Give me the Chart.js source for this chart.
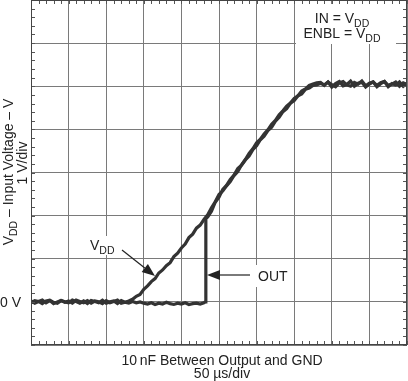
<!DOCTYPE html>
<html>
<head>
<meta charset="utf-8">
<script src="https://cdn.jsdelivr.net/npm/chart.js@4"></script>
<style>
html,body{margin:0;padding:0;background:#fff;}
#c{display:block;}
</style>
</head>
<body>
<canvas id="c" width="408" height="381"></canvas>
<script>
// ---- data (time in µs, 50 µs/div; voltage in V, 1 V/div) ----
const xTickStep = 50;          // µs per division
const yTickStep = 1;           // V per division
const xRange = [0, 500];
const yRange = [-1, 7];
const yTickLabels = ["0 V"];

const timeVdd = [0,5,10,15,20,25,30,35,40,45,50,55,60,65,70,75,80,85,90,95,100,105,110,115,120,125,130,
  135,140,145,150,155,160,165,170,175,180,185,190,195,200,205,210,215,220,225,230,235,240,245,250,255,260,265,270,275,280,285,290,295,300,305,310,315,320,325,330,335,340,345,350,355,360,365,370,375,380,
  385,390,395,400,405,410,415,420,425,430,435,440,445,450,455,460,465,470,475,480,485,490,495,500];
const vddVolts = [0.02,-0.03,0.01,0.04,-0.02,0.03,-0.04,0.00,0.03,-0.01,0.02,-0.03,0.04,0.01,-0.02,0.03,-0.03,0.02,0.00,-0.04,0.03,-0.02,0.01,0.04,-0.03,-0.01,0.02,
  0.06,0.13,0.17,0.29,0.37,0.47,0.54,0.67,0.74,0.84,0.91,1.05,1.13,1.25,1.34,1.49,1.57,1.71,1.78,1.91,2.02,2.18,2.32,2.49,2.57,2.69,2.79,2.93,3.02,3.18,3.30,3.44,3.55,3.69,3.77,3.89,3.99,4.12,4.21,4.34,4.43,4.54,4.61,4.72,4.78,4.89,4.94,5.02,5.05,5.08,
  5.09,5.02,5.10,5.04,4.99,5.08,5.11,5.03,5.00,5.09,5.05,5.12,5.01,5.07,5.10,4.99,5.06,5.11,5.02,5.05,5.10,5.00,5.08,5.04];

const timeOut = [0,5,10,15,20,25,30,35,40,45,50,55,60,65,70,75,80,85,90,95,100,105,110,115,120,125,130,135,140,145,
  150,155,160,165,170,175,180,185,190,195,200,205,210,215,220,225,230,
  232,232.5,
  235,240,245,250,255,260,265,270,275,280,285,290,295,300,305,310,315,320,325,330,335,340,345,350,355,360,365,370,375,380,385,
  390,395,400,405,410,415,420,425,430,435,440,445,450,455,460,465,470,475,480,485,490,495,500];
const outVolts = [-0.02,0.03,0.01,-0.04,0.02,0.04,-0.01,-0.03,0.03,0.00,-0.02,0.04,0.01,-0.03,0.02,-0.04,0.03,0.01,-0.02,0.04,-0.03,0.00,0.02,-0.04,0.03,-0.01,-0.03,0.01,-0.02,0.00,
  -0.03,-0.05,-0.02,-0.06,-0.03,-0.05,-0.01,-0.04,-0.06,-0.03,-0.05,-0.02,-0.06,-0.04,-0.03,-0.05,-0.02,
  0.00,1.93,
  1.97,2.10,2.31,2.43,2.61,2.70,2.84,2.94,3.09,3.17,3.29,3.38,3.53,3.62,3.76,3.84,3.97,4.05,4.19,4.28,4.41,4.48,4.61,4.67,4.78,4.82,4.93,4.96,5.02,5.03,5.07,
  5.03,5.10,4.98,5.06,5.11,5.01,5.04,5.12,5.00,5.07,5.09,4.98,5.05,5.10,5.02,5.08,5.11,4.99,5.06,5.03,5.10,5.00,5.07];

const seriesNames = ["VDD", "OUT"];

// ---- helpers ----
const FONT = "'Liberation Sans', Arial, Helvetica, sans-serif";
function drawParts(ctx, parts, x, y, align) {
  let total = 0;
  const widths = parts.map(p => { ctx.font = p[1] + "px " + FONT; const w = ctx.measureText(p[0]).width; total += w; return w; });
  let cx = align === "center" ? x - total / 2 : (align === "right" ? x - total : x);
  ctx.textAlign = "left"; ctx.textBaseline = "alphabetic";
  parts.forEach((p, i) => { ctx.font = p[1] + "px " + FONT; ctx.fillText(p[0], cx, y + p[2]); cx += widths[i]; });
}
function arrow(ctx, x0, y0, x1, y1, len, half) {
  const ang = Math.atan2(y1 - y0, x1 - x0);
  const bx = x1 - len * Math.cos(ang), by = y1 - len * Math.sin(ang);
  ctx.beginPath(); ctx.moveTo(x0, y0); ctx.lineTo(bx, by); ctx.stroke();
  ctx.beginPath();
  ctx.moveTo(x1, y1);
  ctx.lineTo(bx + half * Math.sin(ang), by - half * Math.cos(ang));
  ctx.lineTo(bx - half * Math.sin(ang), by + half * Math.cos(ang));
  ctx.closePath(); ctx.fill();
}

const scopePlugin = {
  id: "scope",
  beforeDatasetsDraw(chart) {
    const ctx = chart.ctx;
    ctx.save();
    ctx.fillStyle = "#fff";
    ctx.fillRect(296, 4, 100, 40);   // IN / ENBL note
    ctx.fillRect(87, 236, 31, 19);   // VDD note
    ctx.fillRect(254, 265, 38, 22);  // OUT note
    ctx.restore();
  },
  afterDraw(chart) {
    const ctx = chart.ctx, a = chart.chartArea, xs = chart.scales.x, ys = chart.scales.y;
    ctx.save();
    // minor ticks (5 per division) on all four edges
    ctx.strokeStyle = "#555"; ctx.lineWidth = 1;
    ctx.beginPath();
    for (let v = xRange[0]; v <= xRange[1]; v += xTickStep / 5) {
      const px = Math.round(xs.getPixelForValue(v)) + 0.5;
      ctx.moveTo(px, a.top); ctx.lineTo(px, a.top + 4);
      ctx.moveTo(px, a.bottom); ctx.lineTo(px, a.bottom - 4);
    }
    for (let k = 0; k <= (yRange[1] - yRange[0]) * 5; k++) {
      const v = yRange[0] + k * yTickStep / 5;
      const py = Math.round(ys.getPixelForValue(v)) + 0.5;
      ctx.moveTo(a.left, py); ctx.lineTo(a.left + 4, py);
      ctx.moveTo(a.right, py); ctx.lineTo(a.right - 4, py);
    }
    ctx.stroke();
    // frame
    ctx.strokeStyle = "#444";
    ctx.strokeRect(Math.round(a.left) + 0.5, Math.round(a.top) + 0.5, Math.round(a.right - a.left) - 1, Math.round(a.bottom - a.top) - 1);

    ctx.fillStyle = "#222";
    ctx.strokeStyle = "#222";
    // 0 V tick label
    ctx.font = "14px " + FONT; ctx.textAlign = "left"; ctx.textBaseline = "middle";
    ctx.fillText(yTickLabels[0], 0, ys.getPixelForValue(0) + 1);

    // y title (rotated)
    ctx.save(); ctx.translate(13, 172); ctx.rotate(-Math.PI / 2);
    drawParts(ctx, [["V", 14, 0], ["DD", 10.5, 4], [" \u2013 Input Voltage \u2013 V", 14, 0]], 0, 0, "center");
    ctx.restore();
    ctx.save(); ctx.translate(27, 163); ctx.rotate(-Math.PI / 2);
    drawParts(ctx, [["1 V/div", 14, 0]], 0, 0, "center");
    ctx.restore();

    // x title
    drawParts(ctx, [["10\u2009nF Between Output and GND", 14, 0]], 222, 365, "center");
    drawParts(ctx, [["50 \u00b5s/div", 14, 0]], 222, 378, "center");

    // condition note
    drawParts(ctx, [["IN = V", 14, 0], ["DD", 10.5, 4]], 342, 23, "center");
    drawParts(ctx, [["ENBL = V", 14, 0], ["DD", 10.5, 4]], 342, 38, "center");

    // series callouts
    drawParts(ctx, [["V", 14, 0], ["DD", 10.5, 4]], 90, 250, "left");
    drawParts(ctx, [[seriesNames[1], 14, 0]], 258, 281, "left");
    ctx.lineWidth = 1.2;
    arrow(ctx, 122, 250, 155, 276, 13, 5);
    arrow(ctx, 250, 275, 207, 275, 13, 5);
    ctx.restore();
  }
};

const mk = (xs, ys) => xs.map((t, i) => ({ x: t, y: ys[i] }));

new Chart(document.getElementById("c"), {
  type: "line",
  data: {
    datasets: [
      { label: seriesNames[0], data: mk(timeVdd, vddVolts), borderColor: "#333", borderWidth: 3.2, pointRadius: 0, tension: 0, fill: false },
      { label: seriesNames[1], data: mk(timeOut, outVolts), borderColor: "#333", borderWidth: 3.2, pointRadius: 0, tension: 0, fill: false }
    ]
  },
  options: {
    responsive: false,
    animation: false,
    devicePixelRatio: 1,
    parsing: false,
    layout: { padding: { left: 31, right: 1, top: 0, bottom: 36 } },
    plugins: { legend: { display: false }, tooltip: { enabled: false } },
    scales: {
      x: {
        type: "linear", min: xRange[0], max: xRange[1],
        ticks: { display: false, stepSize: xTickStep },
        grid: { color: "#7a7a7a", lineWidth: 1, drawTicks: false },
        border: { display: false }
      },
      y: {
        type: "linear", min: yRange[0], max: yRange[1],
        ticks: { display: false, stepSize: yTickStep },
        grid: { color: "#7a7a7a", lineWidth: 1, drawTicks: false },
        border: { display: false }
      }
    }
  },
  plugins: [scopePlugin]
});
</script>
</body>
</html>
